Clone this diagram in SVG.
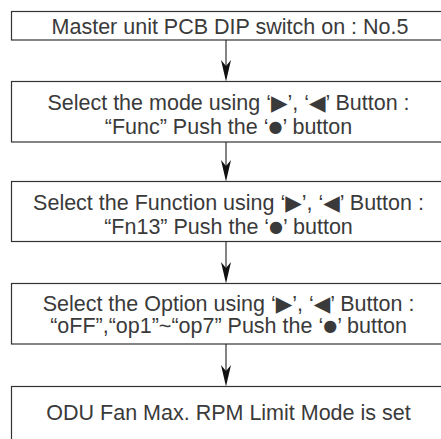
<svg xmlns="http://www.w3.org/2000/svg" width="441" height="439" viewBox="0 0 441 439">
<style>
.box{fill:#fff;stroke:#333;stroke-width:1.2}
.t{font-family:"Liberation Sans","DejaVu Sans",sans-serif;font-size:21.5px;fill:#3a3a3a;text-anchor:middle}
.s{font-family:"DejaVu Sans",sans-serif}
.d{font-family:"DejaVu Sans",sans-serif;font-size:16px}
.ln{stroke:#222;stroke-width:1.1;fill:none}
.ah{fill:#111}
</style>
<rect width="441" height="439" fill="#fff"/>
<g id="n1"><rect class="box" x="11.5" y="11.5" width="440" height="28.5"/>
<text class="t" x="230" y="33.5">Master unit PCB DIP switch on : No.5</text></g>
<g id="n2"><rect class="box" x="11.5" y="81.5" width="440" height="60.5"/>
<text class="t" x="228.5" y="110">Select the mode using ‘<tspan class="s">▶</tspan>’, ‘<tspan class="s">◀</tspan>’ Button :</text>
<text class="t" x="228.5" y="133.5">“Func” Push the ‘<tspan class="d" dy="-2">●</tspan><tspan dy="2">’ button</tspan></text></g>
<g id="n3"><rect class="box" x="11.5" y="181.5" width="440" height="60"/>
<text class="t" x="228.5" y="210">Select the Function using ‘<tspan class="s">▶</tspan>’, ‘<tspan class="s">◀</tspan>’ Button :</text>
<text class="t" x="228.5" y="233.5">“Fn13” Push the ‘<tspan class="d" dy="-2">●</tspan><tspan dy="2">’ button</tspan></text></g>
<g id="n4"><rect class="box" x="11.5" y="283.5" width="440" height="60.5"/>
<text class="t" x="228.5" y="310.5">Select the Option using ‘<tspan class="s">▶</tspan>’, ‘<tspan class="s">◀</tspan>’ Button :</text>
<text class="t" x="228.5" y="333">“oFF”,“op1”~“op7” Push the ‘<tspan class="d" dy="-2">●</tspan><tspan dy="2">’ button</tspan></text></g>
<g id="n5"><rect class="box" x="11.5" y="386.5" width="440" height="70"/>
<text class="t" x="228.5" y="419.5">ODU Fan Max. RPM Limit Mode is set</text></g>
<g id="connectors">
<path class="ln" d="M226 40V68M226 142V168M226 241.5V270M226 344V373"/>
<path class="ah" d="M221 60L226 66L231 60L226 81.5Z"/>
<path class="ah" d="M221 160L226 166L231 160L226 181.5Z"/>
<path class="ah" d="M221 262L226 268L231 262L226 283.5Z"/>
<path class="ah" d="M221 365L226 371L231 365L226 386.5Z"/>
</g>
</svg>
